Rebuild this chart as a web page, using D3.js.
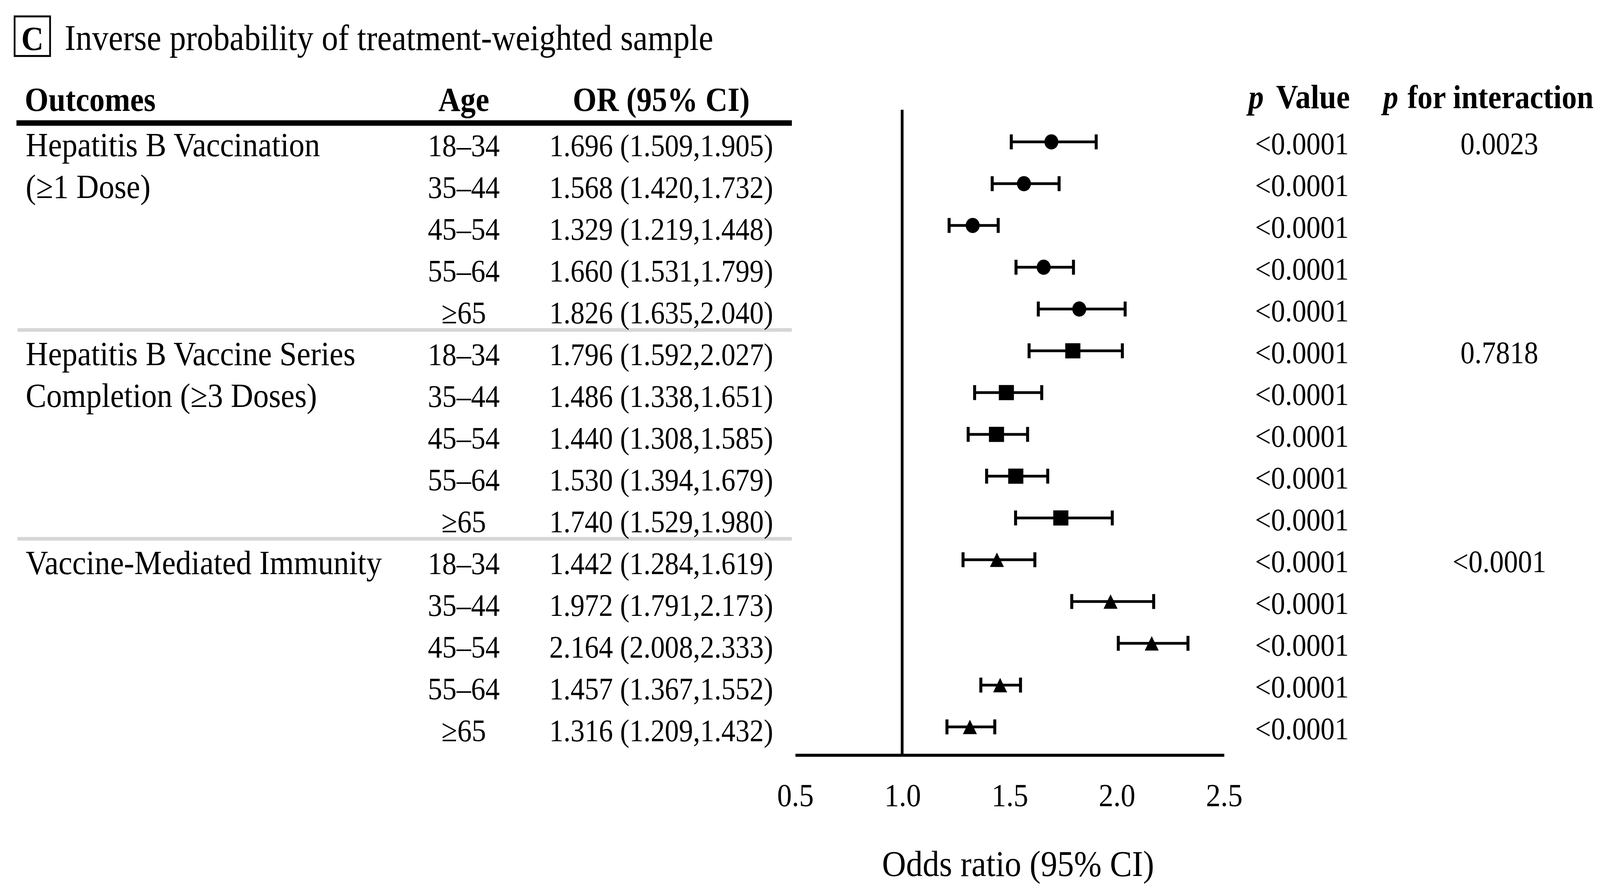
<html>
<meta charset="utf-8">

<head>
    <script src="https://d3js.org/d3.v7.min.js"></script>
    <style>
        body {
            margin: 0;
            background: #fff;
        }

        svg text {
            font-family: "Liberation Serif", "Times New Roman", serif;
            fill: #000;
        }
    </style>
</head>

<body>
    <!-- the figure is a little taller than wide in its text, so the view box is stretched vertically -->
    <svg id="forest" width="4128" height="2284" viewBox="0 0 1568 788.7" preserveAspectRatio="none"></svg>

    <script>
        const outcomeLabels = [
            ["Hepatitis B Vaccination", "(≥1 Dose)"],
            ["Hepatitis B Vaccine Series", "Completion (≥3 Doses)"],
            ["Vaccine-Mediated Immunity"]
        ];
        const outcomeShapes = ["circle", "square", "triangle"];
        const ageGroups = ["18–34", "35–44", "45–54", "55–64", "≥65"];

        const orValues = [1.696, 1.568, 1.329, 1.660, 1.826,
            1.796, 1.486, 1.440, 1.530, 1.740,
            1.442, 1.972, 2.164, 1.457, 1.316];
        const ciLower = [1.509, 1.420, 1.219, 1.531, 1.635,
            1.592, 1.338, 1.308, 1.394, 1.529,
            1.284, 1.791, 2.008, 1.367, 1.209];
        const ciUpper = [1.905, 1.732, 1.448, 1.799, 2.040,
            2.027, 1.651, 1.585, 1.679, 1.980,
            1.619, 2.173, 2.333, 1.552, 1.432];
        const pValues = ["<0.0001", "<0.0001", "<0.0001", "<0.0001", "<0.0001",
            "<0.0001", "<0.0001", "<0.0001", "<0.0001", "<0.0001",
            "<0.0001", "<0.0001", "<0.0001", "<0.0001", "<0.0001"];
        const pInteraction = ["0.0023", "0.7818", "<0.0001"];
        const xTicks = [0.5, 1.0, 1.5, 2.0, 2.5];

        const svg = d3.select('svg#forest');

        // one row per outcome x age
        let rows = [];
        outcomeLabels.forEach((lab, g) => {
            ageGroups.forEach((age, a) => {
                const i = g * ageGroups.length + a;
                rows.push({
                    idx: i, group: g, age: age,
                    or: orValues[i], lo: ciLower[i], hi: ciUpper[i], p: pValues[i]
                });
            });
        });

        const rowScale = d3.scaleLinear().domain([0, rows.length - 1]).range([125.45, 642.7]);
        const xScale = d3.scaleLinear().domain([0.5, 2.5]).range([773, 1190]);

        const tableLeft = 16, tableRight = 770;
        const colOutcome = 25, colAge = 451, colOR = 643, colP = 1266, colInter = 1458;
        const axisY = 667.3;

        // title
        let title = svg.append('g').attr('id', 'title');
        title.append('rect')
            .attr('x', 14.2).attr('y', 14.5)
            .attr('width', 34.5).attr('height', 35)
            .attr('fill', 'none').attr('stroke', '#000').attr('stroke-width', 1.7);
        title.append('text').text('C')
            .attr('x', 31.5).attr('y', 44.3)
            .attr('text-anchor', 'middle')
            .attr('font-weight', 'bold').attr('font-size', 30);
        title.append('text').text('Inverse probability of treatment-weighted sample')
            .attr('x', 63).attr('y', 44.3)
            .attr('font-size', 31.9);

        // table header
        let header = svg.append('g').attr('id', 'header')
            .attr('font-weight', 'bold').attr('font-size', 29.8);
        header.append('text').text('Outcomes').attr('x', 24).attr('y', 98.2);
        header.append('text').text('Age').attr('x', colAge).attr('y', 98.2).attr('text-anchor', 'middle');
        header.append('text').text('OR (95% CI)').attr('x', colOR).attr('y', 98.2).attr('text-anchor', 'middle');

        let pHead = header.append('text').attr('x', 1214).attr('y', 95.5);
        pHead.append('tspan').attr('font-style', 'italic').text('p');
        pHead.append('tspan').attr('dx', 12).text('Value');
        let piHead = header.append('text').attr('x', 1345).attr('y', 95.5)
            .attr('font-size', 29.3);
        piHead.append('tspan').attr('font-style', 'italic').text('p');
        piHead.append('tspan').attr('dx', 9).text('for interaction');

        svg.append('line')
            .attr('x1', tableLeft).attr('x2', tableRight)
            .attr('y1', rowScale(-0.5) + 1.8).attr('y2', rowScale(-0.5) + 1.8)
            .attr('stroke', '#000').attr('stroke-width', 4.8);

        // grey separators between outcomes
        svg.selectAll('line.sep')
            .data(outcomeLabels.slice(1))
            .join('line')
            .attr('class', 'sep')
            .attr('x1', tableLeft + 1).attr('x2', tableRight)
            .attr('y1', (d, i) => rowScale((i + 1) * ageGroups.length - 0.5))
            .attr('y2', (d, i) => rowScale((i + 1) * ageGroups.length - 0.5))
            .attr('stroke', '#d6d6d6').attr('stroke-width', 3.2);

        // outcome labels
        let outcomeText = svg.append('g').attr('id', 'outcomes').attr('font-size', 30.2);
        outcomeLabels.forEach((lines, g) => {
            lines.forEach((line, k) => {
                outcomeText.append('text').text(line)
                    .attr('x', colOutcome)
                    .attr('y', rowScale(g * ageGroups.length + k) + 12.7);
            });
        });

        // age, OR text, p values
        let rowText = svg.append('g').attr('id', 'rowtext');
        rowText.selectAll('text.age').data(rows).join('text')
            .attr('class', 'age')
            .attr('x', colAge).attr('y', d => rowScale(d.idx) + 12.7)
            .attr('text-anchor', 'middle').attr('font-size', 28)
            .text(d => d.age);

        rowText.selectAll('text.or').data(rows).join('text')
            .attr('class', 'or')
            .attr('x', colOR).attr('y', d => rowScale(d.idx) + 12.7)
            .attr('text-anchor', 'middle').attr('font-size', 27.5)
            .text(d => `${d.or.toFixed(3)} (${d.lo.toFixed(3)},${d.hi.toFixed(3)})`);

        rowText.selectAll('text.pval').data(rows).join('text')
            .attr('class', 'pval')
            .attr('x', colP).attr('y', d => rowScale(d.idx) + 10.9)
            .attr('text-anchor', 'middle').attr('font-size', 27.5)
            .text(d => d.p);

        rowText.selectAll('text.pint').data(pInteraction).join('text')
            .attr('class', 'pint')
            .attr('x', colInter).attr('y', (d, g) => rowScale(g * ageGroups.length) + 10.9)
            .attr('text-anchor', 'middle').attr('font-size', 27.5)
            .text(d => d);

        // forest plot
        let plot = svg.append('g').attr('id', 'plot');

        plot.append('line')
            .attr('x1', xScale(1)).attr('x2', xScale(1))
            .attr('y1', 97).attr('y2', axisY)
            .attr('stroke', '#000').attr('stroke-width', 2.7);

        let bottomAxis = d3.axisBottom(xScale)
            .tickValues(xTicks)
            .tickSize(0)
            .tickFormat(d3.format('.1f'));

        let axisG = plot.append('g')
            .attr('transform', `translate(0,${axisY})`)
            .call(bottomAxis);
        axisG.select('.domain').attr('stroke', '#000').attr('stroke-width', 2.6);
        axisG.selectAll('.tick text')
            .attr('y', 45.4).attr('dy', 0)
            .attr('font-size', 28.5)
            .style('font-family', '"Liberation Serif", "Times New Roman", serif')
            .attr('fill', '#000');

        plot.append('text').text('Odds ratio (95% CI)')
            .attr('x', 990).attr('y', 774.5)
            .attr('text-anchor', 'middle').attr('font-size', 32.3);

        // confidence intervals
        let bars = plot.selectAll('g.ci').data(rows).join('g').attr('class', 'ci');
        bars.append('line')
            .attr('x1', d => xScale(d.lo)).attr('x2', d => xScale(d.hi))
            .attr('y1', d => rowScale(d.idx)).attr('y2', d => rowScale(d.idx))
            .attr('stroke', '#000').attr('stroke-width', 2.45);
        bars.selectAll('line.cap')
            .data(d => [{ x: d.lo, idx: d.idx }, { x: d.hi, idx: d.idx }])
            .join('line')
            .attr('class', 'cap')
            .attr('x1', c => xScale(c.x)).attr('x2', c => xScale(c.x))
            .attr('y1', c => rowScale(c.idx) - 6.6).attr('y2', c => rowScale(c.idx) + 6.6)
            .attr('stroke', '#000').attr('stroke-width', 2.9);

        // point markers
        bars.each(function (d) {
            const g = d3.select(this);
            const cx = xScale(d.or), cy = rowScale(d.idx);
            const shape = outcomeShapes[d.group];
            if (shape === 'circle') {
                g.append('ellipse').attr('cx', cx).attr('cy', cy)
                    .attr('rx', 6.8).attr('ry', 6.7).attr('fill', '#000');
            } else if (shape === 'square') {
                g.append('rect').attr('x', cx - 7.35).attr('y', cy - 6.7)
                    .attr('width', 14.7).attr('height', 13.4).attr('fill', '#000');
            } else {
                g.append('path')
                    .attr('d', `M${cx},${cy - 6.4}L${cx + 6.8},${cy + 6.4}L${cx - 6.8},${cy + 6.4}Z`)
                    .attr('fill', '#000');
            }
        });
    </script>
</body>

</html>
